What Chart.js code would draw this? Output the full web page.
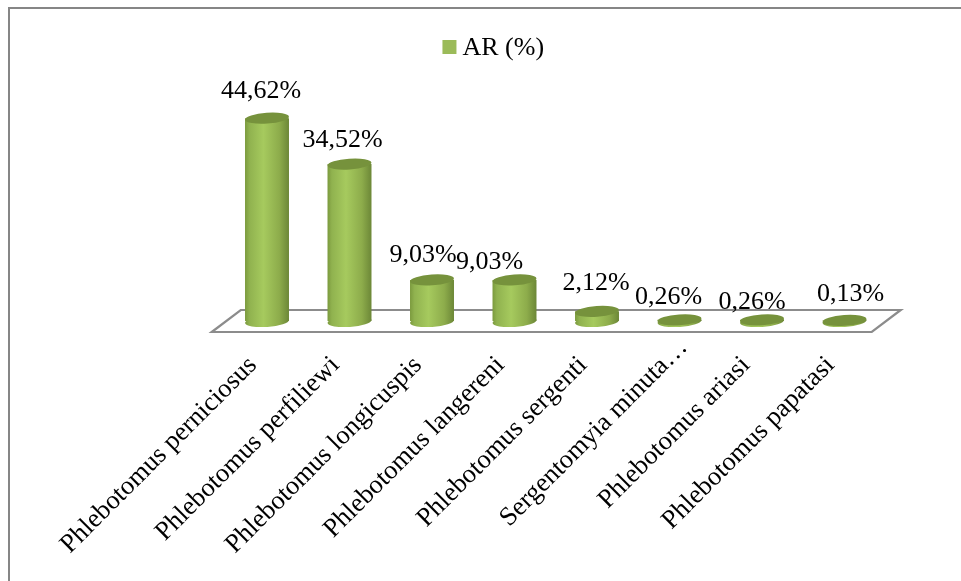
<!DOCTYPE html>
<html><head><meta charset="utf-8">
<style>
html,body{margin:0;padding:0;background:#fff;overflow:hidden}
#frame{position:absolute;left:8px;top:7px;width:953px;height:574px;border-top:2px solid #868686;border-left:2px solid #868686;box-sizing:border-box}
#wrap{position:absolute;left:0;top:0;width:961px;height:581px}
</style>
<script src="https://cdn.jsdelivr.net/npm/chart.js@4/dist/chart.umd.js"></script>
</head><body>
<div id="frame"></div>
<div id="wrap"><canvas id="c" width="961" height="581"></canvas></div>
<script>
const categories = ["Phlebotomus perniciosus","Phlebotomus perfiliewi","Phlebotomus longicuspis","Phlebotomus langereni","Phlebotomus sergenti","Sergentomyia minuta…","Phlebotomus ariasi","Phlebotomus papatasi"];
const seriesName = "AR (%)";
const arValues = [44.62,34.52,9.03,9.03,2.12,0.26,0.26,0.13];
const labelNudgeX = [-6,-7,-9,-25,-1,-11,-10,6];
const labelNudgeY = [-27,-24,-25,-18,-28,-23,-18,-26];
const tickNudgeX = [0,0,0,0,0,18,-2,0];
const tickNudgeY = [0,0,0,0,0,-18,0,0];
const FONT = '"Liberation Serif","Times New Roman",serif';
const TILT = -4*Math.PI/180, RY = 5.4, LEGEND_SHIFT = -59;

function sideGradient(c, x, w){
  const g = c.createLinearGradient(x-w/2,0,x+w/2,0);
  g.addColorStop(0,'#7b9a3e');
  g.addColorStop(0.1,'#90b24f');
  g.addColorStop(0.42,'#a6ca5e');
  g.addColorStop(0.78,'#8dac4b');
  g.addColorStop(1,'#6c8737');
  return g;
}
const cylinder = {
  id:'cylinder',
  beforeDraw(chart){
    if(chart.$nudged) return;
    chart.$nudged = true;
    chart.scales.x.getLabelItems(chart.chartArea).forEach((it,i)=>{
      it.options.translation[0] += tickNudgeX[i];
      it.options.translation[1] += tickNudgeY[i];
    });
  },
  beforeDatasetsDraw(chart){
    const {ctx,chartArea:a} = chart;
    ctx.save();
    ctx.strokeStyle='#8c8c8c'; ctx.lineWidth=2.2; ctx.lineJoin='miter';
    ctx.beginPath();
    ctx.moveTo(a.left-14,a.bottom+11);
    ctx.lineTo(a.left+15,a.bottom-11);
    ctx.lineTo(a.right+15,a.bottom-11);
    ctx.lineTo(a.right-14,a.bottom+11);
    ctx.closePath(); ctx.stroke();
    ctx.restore();
  },
  afterDatasetsDraw(chart){
    const {ctx,chartArea:a} = chart;
    const meta = chart.getDatasetMeta(0);
    ctx.save();
    meta.data.forEach((b,i)=>{
      const w = b.width, rx = w/2;
      ctx.fillStyle = sideGradient(ctx,b.x,w);
      ctx.beginPath();
      ctx.ellipse(b.x,a.bottom+0.5,rx,RY,TILT,0,Math.PI*2);
      ctx.fill();
      ctx.fillStyle='#76923c';
      ctx.beginPath();
      ctx.ellipse(b.x,b.y,rx,RY,TILT,0,Math.PI*2);
      ctx.fill();
    });
    ctx.fillStyle='#000'; ctx.font='26px '+FONT;
    ctx.textAlign='center'; ctx.textBaseline='middle';
    meta.data.forEach((b,i)=>{
      const t = arValues[i].toFixed(2).replace('.',',')+'%';
      ctx.fillText(t,b.x+labelNudgeX[i],b.y+labelNudgeY[i]);
    });
    // legend swatch, just left of the legend text
    const l = chart.legend, hit = l.legendHitBoxes[0];
    ctx.fillStyle='#9bbb59';
    ctx.fillRect(hit.left+13-20,l.top+36,14,14);
    ctx.restore();
  }
};
const shiftLegend = {
  id:'shiftLegend',
  afterLayout(chart){
    const l = chart.legend;
    l.left += LEGEND_SHIFT; l.right += LEGEND_SHIFT;
  }
};
new Chart(document.getElementById('c'),{
  type:'bar',
  data:{labels:categories,datasets:[{
    label:seriesName,data:arValues,
    barPercentage:0.533,categoryPercentage:1,
    borderWidth:0,
    backgroundColor(ctx){
      const ch = ctx.chart;
      if(!ch.chartArea || ctx.dataIndex===undefined) return '#9bbb59';
      const b = ch.scales.x.getPixelForValue(ctx.dataIndex);
      return sideGradient(ch.ctx,b,44);
    }
  }]},
  plugins:[cylinder,shiftLegend],
  options:{
    responsive:false,animation:false,
    layout:{padding:{top:4,left:225.75,right:75.25,bottom:0}},
    plugins:{
      tooltip:{enabled:false},
      legend:{position:'top',labels:{
        font:{family:FONT,size:26},color:'#000',boxWidth:0,boxHeight:0,padding:31,
        generateLabels(){return [{text:seriesName,fillStyle:'rgba(0,0,0,0)',strokeStyle:'rgba(0,0,0,0)',lineWidth:0,hidden:false,datasetIndex:0}];}
      }}
    },
    scales:{
      x:{
        afterFit(s){s.height=260;},
        grid:{display:false},border:{display:false},
        ticks:{autoSkip:false,minRotation:45,maxRotation:45,font:{family:FONT,size:26.5},color:'#000',padding:21,labelOffset:-14}
      },
      y:{display:false,min:0,max:55}
    }
  }
});
</script>
</body></html>
